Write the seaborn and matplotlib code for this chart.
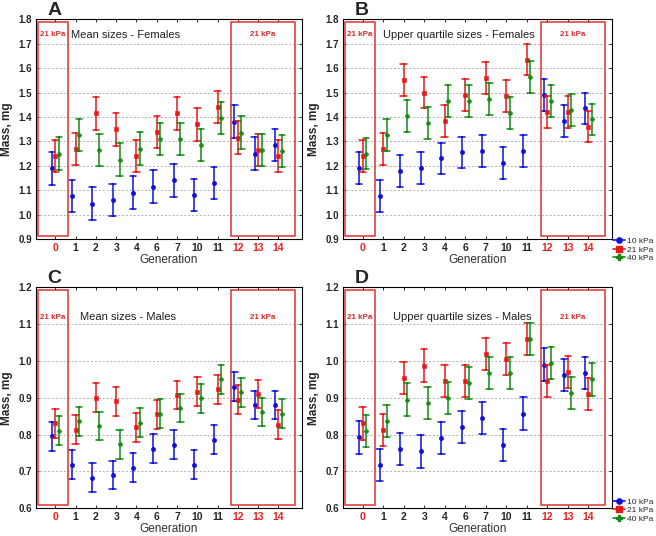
import matplotlib
matplotlib.use("Agg")
import matplotlib.pyplot as plt
import matplotlib.transforms as mtransforms
from matplotlib.patches import Rectangle
from matplotlib.lines import Line2D
import numpy as np
import pandas as pd
import seaborn as sns

# ---------------- data ----------------
generations = ["0", "1", "2", "3", "4", "6", "7", "10", "11", "12", "13", "14"]
red_generations = ["0", "12", "13", "14"]
pressures = ["10 kPa", "21 kPa", "40 kPa"]
colors = {"10 kPa": "#1010d8", "21 kPa": "#e81818", "40 kPa": "#138a13"}

# Panel A: Mean sizes - Females
a_10 = [1.19, 1.075, 1.045, 1.06, 1.09, 1.115, 1.14, 1.08, 1.13, 1.38, 1.25, 1.285]
a_21 = [1.24, 1.27, 1.415, 1.35, 1.24, 1.34, 1.415, 1.37, 1.44, 1.315, 1.265, 1.24]
a_40 = [1.25, 1.325, 1.265, 1.225, 1.27, 1.31, 1.31, 1.285, 1.395, 1.335, 1.265, 1.26]
a_err = [0.067, 0.066, 0.067, 0.067, 0.067, 0.066, 0.067, 0.067, 0.066, 0.067, 0.066, 0.066]

# Panel B: Upper quartile sizes - Females
b_10 = [1.19, 1.075, 1.18, 1.19, 1.23, 1.255, 1.26, 1.21, 1.26, 1.49, 1.385, 1.435]
b_21 = [1.24, 1.27, 1.55, 1.50, 1.385, 1.49, 1.56, 1.485, 1.635, 1.42, 1.42, 1.36]
b_40 = [1.25, 1.325, 1.405, 1.375, 1.465, 1.465, 1.475, 1.415, 1.565, 1.465, 1.43, 1.39]
b_err = [0.065, 0.065, 0.065, 0.065, 0.065, 0.065, 0.065, 0.065, 0.065, 0.064, 0.065, 0.064]

# Panel C: Mean sizes - Males
c_10 = [0.795, 0.718, 0.683, 0.69, 0.71, 0.762, 0.772, 0.718, 0.786, 0.93, 0.88, 0.88]
c_21 = [0.83, 0.813, 0.90, 0.89, 0.82, 0.855, 0.907, 0.916, 0.923, 0.895, 0.91, 0.827]
c_40 = [0.81, 0.836, 0.823, 0.773, 0.832, 0.857, 0.872, 0.898, 0.95, 0.915, 0.862, 0.857]
c_err = [0.039, 0.039, 0.039, 0.039, 0.039, 0.039, 0.039, 0.039, 0.039, 0.039, 0.038, 0.039]

# Panel D: Upper quartile sizes - Males
d_10 = [0.792, 0.718, 0.76, 0.754, 0.79, 0.82, 0.845, 0.772, 0.857, 0.99, 0.962, 0.967]
d_21 = [0.83, 0.813, 0.953, 0.987, 0.946, 0.946, 1.018, 1.005, 1.06, 0.946, 0.97, 0.91]
d_40 = [0.81, 0.836, 0.895, 0.885, 0.90, 0.94, 0.967, 0.967, 1.06, 0.995, 0.913, 0.95]
d_err = [0.044, 0.044, 0.044, 0.044, 0.044, 0.044, 0.044, 0.044, 0.044, 0.044, 0.044, 0.044]

panels = [
    ("A", "Mean sizes - Females", (a_10, a_21, a_40), a_err, (0.9, 1.8),
     [0.055, 0.554, 0.405, 0.41], (0.335, 0.93)),
    ("B", "Upper quartile sizes - Females", (b_10, b_21, b_40), b_err, (0.9, 1.8),
     [0.523, 0.554, 0.41, 0.41], (0.43, 0.93)),
    ("C", "Mean sizes - Males", (c_10, c_21, c_40), c_err, (0.6, 1.2),
     [0.055, 0.052, 0.405, 0.412], (0.345, 0.864)),
    ("D", "Upper quartile sizes - Males", (d_10, d_21, d_40), d_err, (0.6, 1.2),
     [0.523, 0.052, 0.41, 0.412], (0.445, 0.864)),
]


def long_table(series_values, err):
    rows = []
    for p, vals in zip(pressures, series_values):
        for g, v, e in zip(generations, vals, err):
            rows.append((g, p, v - e))
            rows.append((g, p, v + e))
    return pd.DataFrame(rows, columns=["Generation", "Pressure", "Mass"])


# ---------------- style ----------------
sns.set_style("white")
plt.rcParams["font.family"] = ["Liberation Sans", "DejaVu Sans"]

fig = plt.figure(figsize=(6.56, 5.36), dpi=100)

for letter, title, series_values, err, ylim, pos, tpos in panels:
    ax = fig.add_axes(pos)
    df = long_table(series_values, err)
    sns.pointplot(
        data=df, x="Generation", y="Mass", hue="Pressure",
        order=generations, hue_order=pressures, palette=colors,
        estimator="mean", errorbar=("pi", 100), dodge=0.34,
        linestyle="none", markers=["o", "s", "P"], markersize=3.1,
        markeredgewidth=0.4,
        capsize=0.32, err_kws={"linewidth": 1.1}, legend=False, ax=ax,
    )
    ax.set_xlim(-0.95, 12.15)
    ax.set_ylim(*ylim)
    ticks = np.round(np.arange(ylim[0], ylim[1] + 0.001, 0.1), 1)
    ax.set_yticks(ticks)
    ax.set_yticklabels([f"{t:.1f}" for t in ticks], fontweight="bold", fontsize=7)
    ax.yaxis.grid(True, linestyle=(0, (2, 2)), color="#b0b0b0", linewidth=0.7)
    ax.xaxis.grid(False)
    ax.set_axisbelow(True)
    for s in ax.spines.values():
        s.set_color("black")
        s.set_linewidth(0.8)
    ax.tick_params(axis="both", direction="in", length=2.5, width=0.7,
                   top=True, right=True, left=True, bottom=True, pad=3)
    ax.tick_params(axis="x", labelsize=7.5, pad=2.5)
    for lab in ax.get_xticklabels():
        lab.set_fontweight("bold")
        if lab.get_text() in red_generations:
            lab.set_color("#e82020")
    ax.set_xlabel("Generation", fontsize=8.5, color="#303030", labelpad=1)
    ax.set_ylabel("Mass, mg", fontsize=8.5, fontweight="bold", labelpad=4)

    # red boxes marking 21 kPa generations
    trans = mtransforms.blended_transform_factory(ax.transData, ax.transAxes)
    for x0, x1 in [(-0.84, 0.6), (8.67, 11.82)]:
        ax.add_patch(Rectangle((x0, 0.012), x1 - x0, 0.974, transform=trans,
                               fill=False, edgecolor="#e03030", linewidth=1.1,
                               zorder=5))
        ax.text((x0 + x1) / 2, tpos[1], "21 kPa", transform=trans,
                ha="center", va="center", color="#e02828", fontsize=5.8,
                fontweight="bold")

    ax.text(tpos[0], tpos[1], title, transform=ax.transAxes, ha="center",
            va="center", fontsize=8, color="#202020")
    ax.text(0.042, 1.0, letter, transform=ax.transAxes, ha="left",
            va="bottom", fontsize=14, fontweight="bold")

# legends
handles = [Line2D([0], [0], color=colors[p], marker=m, markersize=3.8,
                  linewidth=1.2) for p, m in zip(pressures, ["o", "s", "P"])]
for ypos in (0.534, 0.048):
    fig.legend(handles, pressures, loc="center left",
               bbox_to_anchor=(0.935, ypos), frameon=False, fontsize=6,
               handlelength=1.4, handletextpad=0.2, labelspacing=0.1,
               borderaxespad=0, borderpad=0)

fig.savefig("out.png", dpi=100)
